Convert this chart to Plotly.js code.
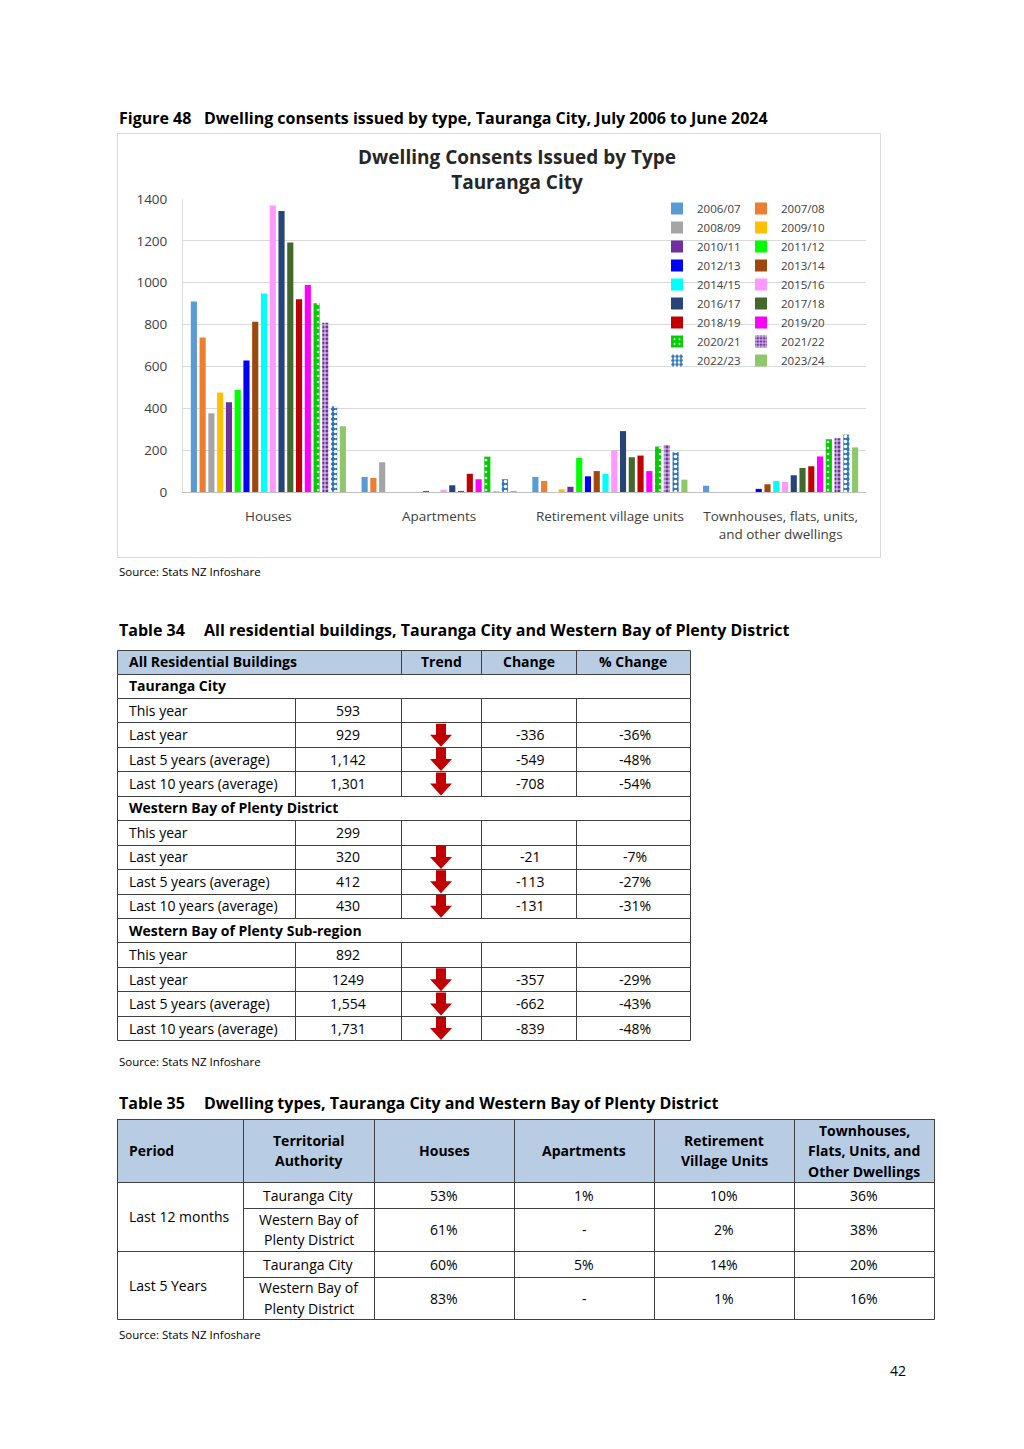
<!DOCTYPE html>
<html><head><meta charset="utf-8">
<script src="https://cdn.plot.ly/plotly-3.0.1.min.js"></script>
<style>html,body{margin:0;padding:0;background:#fff}</style>
</head><body><div id="page" style="width:1024px;height:1449px"></div>
<script>
// ---------- DATA ----------
const categories = ['Houses','Apartments','Retirement village units','Townhouses, flats, units,<br>and other dwellings'];
const years = ['2006/07','2007/08','2008/09','2009/10','2010/11','2011/12','2012/13','2013/14','2014/15','2015/16','2016/17','2017/18','2018/19','2019/20','2020/21','2021/22','2022/23','2023/24'];
const houses      = [910,738,376,475,429,488,628,814,948,1369,1343,1192,921,989,902,809,411,314];
const apartments  = [72,67,142,0,0,0,0,5,0,11,32,5,87,61,169,2,61,5];
const retirement  = [72,53,0,13,25,163,75,100,87,199,291,166,174,100,217,225,190,59];
const townhouses  = [30,0,0,0,0,0,15,37,53,48,80,115,123,170,252,257,274,213];

// Table 34
const t34Header = ['All Residential Buildings','Trend','Change','% Change'];
const t34Sections = ['Tauranga City','Western Bay of Plenty District','Western Bay of Plenty Sub-region'];
const t34Periods = ['This year','Last year','Last 5 years (average)','Last 10 years (average)'];
const t34Values = [['593','929','1,142','1,301'],['299','320','412','430'],['892','1249','1,554','1,731']];
const t34Change = [['','-336','-549','-708'],['','-21','-113','-131'],['','-357','-662','-839']];
const t34Pct    = [['','-36%','-48%','-54%'],['','-7%','-27%','-31%'],['','-29%','-43%','-48%']];

// Table 35
const t35Header = ['Period','Territorial<br>Authority','Houses','Apartments','Retirement<br>Village Units','Townhouses,<br>Flats, Units, and<br>Other Dwellings'];
const t35Periods = ['Last 12 months','Last 5 Years'];
const t35Authorities = ['Tauranga City','Western Bay of<br>Plenty District'];
const t35Houses = ['53%','61%','60%','83%'];
const t35Apartments = ['1%','-','5%','-'];
const t35Retirement = ['10%','2%','14%','1%'];
const t35Townhouses = ['36%','38%','20%','16%'];

// ---------- STYLE ----------
const W=1024, H=1449;
const FONT='"Open Sans", sans-serif';
const yearColors = ['#5B9BD5','#ED7D31','#A5A5A5','#FFC000','#7030A0','#00FF00','#0000FF','#9E480E','#00FFFF','#FF99FF','#264478','#43682B','#C00000','#FF00FF','#00CC00','#7030A0','#2E75B6','#8FC86A'];
const yearPatterns = {14:{shape:'.',fgcolor:'#FFFFFF',bgcolor:'#00CC00',size:6,solidity:0.15},
                      15:{shape:'+',fgcolor:'#FFFFFF',bgcolor:'#7030A0',size:4,solidity:0.35},
                      16:{shape:'.',fgcolor:'#FFFFFF',bgcolor:'#2E75B6',size:5,solidity:0.4}};
const HEAD_FILL='#B8CCE4', LINE='#404040';
const LINE_H=20.5;

// ---------- CHART TRACES ----------
const traces = years.map((yr,i)=>{
  const m={color:yearColors[i], line:{width:0}};
  if (yearPatterns[i]) m.pattern=Object.assign({fillmode:'replace'},yearPatterns[i]);
  return {type:'bar', name:yr, x:categories,
    y:[houses[i],apartments[i],retirement[i],townhouses[i]],
    marker:m, legend: i%2===0?'legend':'legend2', hoverinfo:'skip'};
});
traces.push({type:'scatter',x:[0],y:[0],xaxis:'x2',yaxis:'y2',mode:'markers',
  marker:{opacity:0},showlegend:false,hoverinfo:'skip'});

// ---------- PAGE ELEMENTS (shapes & annotations in page pixel axis) ----------
const ann=[], shp=[];
function text(x,y,t,o={}){
  const lines=String(t).split('<br>');
  const n=lines.length;
  lines.forEach((ln,i)=>{
    ann.push({xref:'x2',yref:'y2',x:x,y:y+(i-(n-1)/2)*LINE_H,text:ln,showarrow:false,
      xanchor:o.xa||'left',yanchor:'middle',align:o.xa==='center'?'center':'left',
      font:{family:FONT,size:o.size||14,color:o.color||'#000000',weight:o.bold?700:400}});
  });
}
const px=v=>Math.round(v)+0.5;
function rect(x0,y0,x1,y1,o={}){
  shp.push({type:'rect',xref:'x2',yref:'y2',x0:px(x0),y0:px(y0),x1:px(x1),y1:px(y1),
    fillcolor:o.fill||'rgba(0,0,0,0)',line:{color:o.line||LINE,width:o.lw===undefined?1:o.lw},layer:'above'});
}
function arrow(cx,cy){
  const p=`M ${cx-5} ${cy-11} L ${cx+5} ${cy-11} L ${cx+5} ${cy} L ${cx+11} ${cy} L ${cx} ${cy+12} L ${cx-11} ${cy} L ${cx-5} ${cy} Z`;
  shp.push({type:'path',xref:'x2',yref:'y2',path:p,fillcolor:'#C00000',line:{width:0},layer:'above'});
}

// Figure caption and chart frame
text(117,118,'Figure 48',{bold:true,size:16});
text(202,118,'Dwelling consents issued by type, Tauranga City, July 2006 to June 2024',{bold:true,size:16});
rect(117,133,880,557,{line:'#D9D9D9'});
text(117,571,'Source: Stats NZ Infoshare',{size:11.5});

// Table 34
text(117,630,'Table 34',{bold:true,size:16});
text(202,630,'All residential buildings, Tauranga City and Western Bay of Plenty District',{bold:true,size:16});
const c34=[117,295,401,481,576,690];
const t34Top=650, t34HeadH=23.5, t34RowH=24.45;
rect(c34[0],t34Top,c34[5],t34Top+t34HeadH,{fill:HEAD_FILL});
rect(c34[2],t34Top,c34[3],t34Top+t34HeadH);
rect(c34[3],t34Top,c34[4],t34Top+t34HeadH);
text(127,t34Top+t34HeadH/2,t34Header[0],{bold:true});
text((c34[2]+c34[3])/2,t34Top+t34HeadH/2,t34Header[1],{bold:true,xa:'center'});
text((c34[3]+c34[4])/2,t34Top+t34HeadH/2,t34Header[2],{bold:true,xa:'center'});
text((c34[4]+c34[5])/2,t34Top+t34HeadH/2,t34Header[3],{bold:true,xa:'center'});
let r=0;
t34Sections.forEach((sec,s)=>{
  let y0=t34Top+t34HeadH+r*t34RowH;
  rect(c34[0],y0,c34[5],y0+t34RowH);
  text(127,y0+t34RowH/2,sec,{bold:true});
  r++;
  t34Periods.forEach((p,k)=>{
    const a=t34Top+t34HeadH+r*t34RowH, b=a+t34RowH, cy=(a+b)/2;
    for(let c=0;c<5;c++) rect(c34[c],a,c34[c+1],b);
    text(127,cy,p);
    text((c34[1]+c34[2])/2,cy,t34Values[s][k],{xa:'center'});
    if (t34Change[s][k]!=='' && parseFloat(t34Change[s][k])<0) arrow((c34[2]+c34[3])/2,cy);
    text((c34[3]+c34[4])/2+2,cy,t34Change[s][k],{xa:'center'});
    text((c34[4]+c34[5])/2+2,cy,t34Pct[s][k],{xa:'center'});
    r++;
  });
});
text(117,1061,'Source: Stats NZ Infoshare',{size:11.5});

// Table 35
text(117,1103,'Table 35',{bold:true,size:16});
text(202,1103,'Dwelling types, Tauranga City and Western Bay of Plenty District',{bold:true,size:16});
const c35=[117,243,374,514,654,794,934];
const r35=[1119,1182,1208,1251,1277,1319];
rect(c35[0],r35[0],c35[6],r35[1],{fill:HEAD_FILL});
for(let c=0;c<6;c++){
  rect(c35[c],r35[0],c35[c+1],r35[1]);
  if(c===0) text(127,(r35[0]+r35[1])/2,t35Header[c],{bold:true});
  else text((c35[c]+c35[c+1])/2,(r35[0]+r35[1])/2,t35Header[c],{bold:true,xa:'center'});
}
const t35Cols=[t35Houses,t35Apartments,t35Retirement,t35Townhouses];
t35Periods.forEach((p,pi)=>{
  const a=r35[1+pi*2], b=r35[3+pi*2];
  rect(c35[0],a,c35[1],b);
  text(127,(a+b)/2,p);
  for(let k=0;k<2;k++){
    const ri=pi*2+k, y0=r35[1+ri], y1=r35[2+ri], cy=(y0+y1)/2;
    for(let c=1;c<6;c++) rect(c35[c],y0,c35[c+1],y1);
    text((c35[1]+c35[2])/2,cy,t35Authorities[k],{xa:'center'});
    t35Cols.forEach((col,ci)=>text((c35[2+ci]+c35[3+ci])/2,cy,col[ri],{xa:'center'}));
  }
});
text(117,1334,'Source: Stats NZ Infoshare',{size:11.5});
text(898,1370,'42',{xa:'center',size:14});

// ---------- LAYOUT ----------
const legendBase={xanchor:'left',yanchor:'top',bgcolor:'rgba(0,0,0,0)',borderwidth:0,
  font:{family:FONT,size:11.5,color:'#404040'},itemclick:false,itemdoubleclick:false,tracegroupgap:0};
const layout={
  width:W,height:H,margin:{l:0,r:0,t:0,b:0},
  paper_bgcolor:'#FFFFFF',plot_bgcolor:'rgba(0,0,0,0)',
  font:{family:FONT,color:'#404040'},
  title:{text:'Dwelling Consents Issued by Type<br>Tauranga City',
    font:{family:FONT,size:19,color:'#262626',weight:700},
    x:517/W,xanchor:'center',xref:'container',y:1-164/H,yref:'container',yanchor:'top'},
  barmode:'group',bargap:0.076,bargroupgap:0.3,
  xaxis:{domain:[183/W,866/W],anchor:'y',type:'category',showline:true,linecolor:'#BFBFBF',
    ticks:'',tickfont:{family:FONT,size:13.5,color:'#404040'},ticklabelstandoff:12,fixedrange:true},
  yaxis:{domain:[1-492/H,1-199/H],anchor:'x',range:[0,1400],dtick:200,showgrid:true,gridcolor:'#D9D9D9',
    showline:true,linecolor:'#D9D9D9',zeroline:false,ticks:'',
    tickfont:{family:FONT,size:13.5,color:'#404040'},ticklabelstandoff:12,fixedrange:true},
  xaxis2:{domain:[0,1],anchor:'y2',range:[0,W],visible:false,fixedrange:true},
  yaxis2:{domain:[0,1],anchor:'x2',range:[H,0],visible:false,fixedrange:true},
  legend:Object.assign({x:657/W,y:1-194/H},legendBase),
  legend2:Object.assign({x:741/W,y:1-194/H},legendBase),
  shapes:shp, annotations:ann
};
Plotly.newPlot('page',traces,layout,{staticPlot:true,displayModeBar:false});
</script></body></html>
